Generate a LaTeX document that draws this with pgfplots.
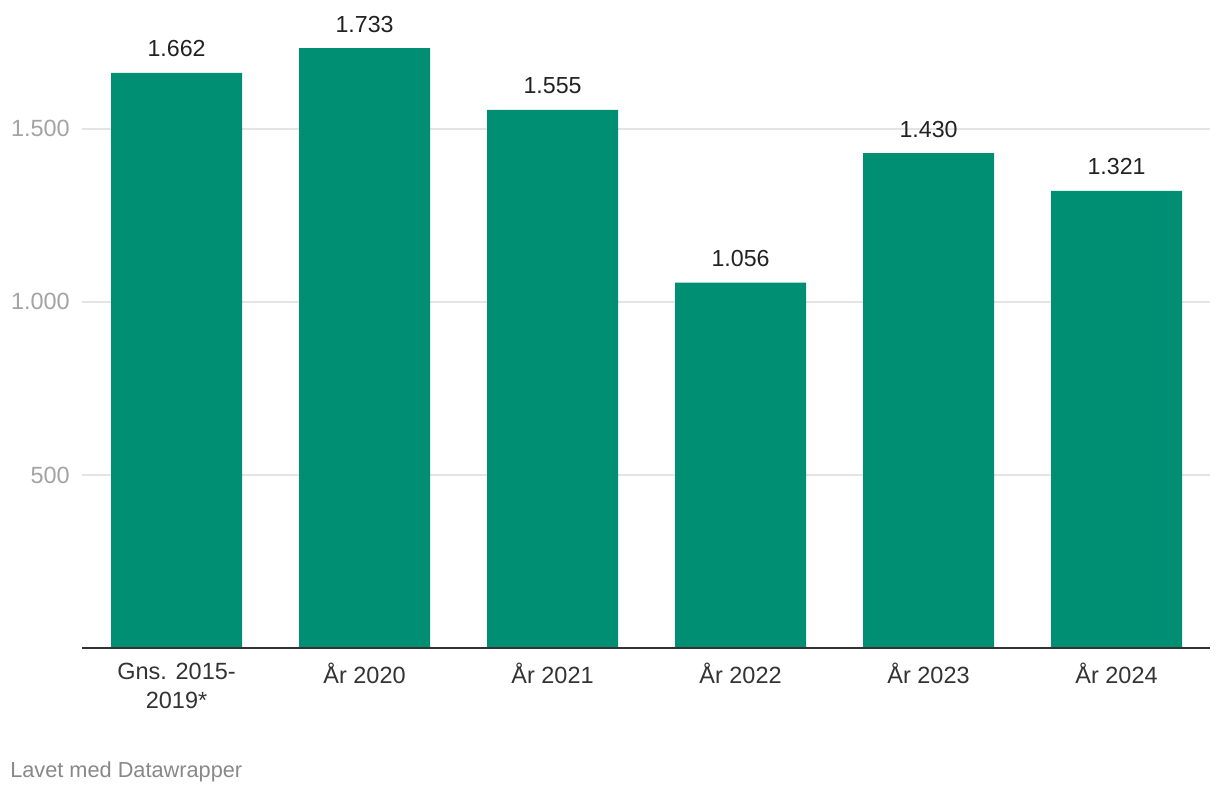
\documentclass[border=0pt]{standalone}
\usepackage{pgfplots}
\pgfplotsset{compat=1.18}
\usepackage{fontspec}
\setmainfont{Liberation Sans}
\definecolor{barc}{HTML}{008F72}
\definecolor{tickc}{HTML}{A3A3A3}
\definecolor{gridc}{HTML}{E4E4E4}
\definecolor{labc}{HTML}{333333}
\definecolor{valc}{HTML}{222222}
\definecolor{footc}{HTML}{888888}
\begin{document}
\begin{tikzpicture}
\path[use as bounding box, fill=white] (0,0) rectangle (915pt,597pt);
\begin{axis}[
  at={(61.5pt,111pt)}, anchor=south west,
  scale only axis, width=846pt, height=467.25pt,
  xmin=-0.503, xmax=5.497, ymin=0, ymax=1800,
  axis line style={draw=none},
  ybar, bar width=98.25pt, bar shift=0pt,
  ytick={500,1000,1500},
  ymajorgrids, xmajorgrids=false, grid style={draw=gridc, line width=1.2pt},
  major tick length=0pt,
  xtick={0,1,2,3,4,5},
  xticklabels={{Gns. 2015-\\2019*},År 2020,År 2021,År 2022,År 2023,År 2024},
  xticklabel style={align=center, anchor=north, inner sep=0pt, yshift=-11pt, font=\fontsize{17.6pt}{21.8pt}\selectfont, text=labc},
  yticklabel style={anchor=east, inner sep=0pt, xshift=-9pt, font=\fontsize{17.6pt}{20pt}\selectfont, text=tickc},
  /pgf/number format/.cd, 1000 sep={.}, assume math mode=true,
  /pgfplots/.cd,
  nodes near coords,
  nodes near coords style={font=\fontsize{17.4pt}{20pt}\selectfont, text=valc, anchor=south, inner sep=0pt, yshift=11.5pt, /pgf/number format/1000 sep={.}, /pgf/number format/assume math mode=true},
  clip=false,
]
\addplot[fill=barc, draw=none] coordinates {(0,1662) (1,1733) (2,1555) (3,1056) (4,1430) (5,1321)};
\draw[labc, line width=1.5pt] (axis cs:-0.503,0) -- (axis cs:5.497,0);
\end{axis}
\node[anchor=west, inner sep=0pt, text=footc, font=\fontsize{16.3pt}{18pt}\selectfont] at (7.5pt,18pt) {Lavet med Datawrapper};
\end{tikzpicture}
\end{document}
